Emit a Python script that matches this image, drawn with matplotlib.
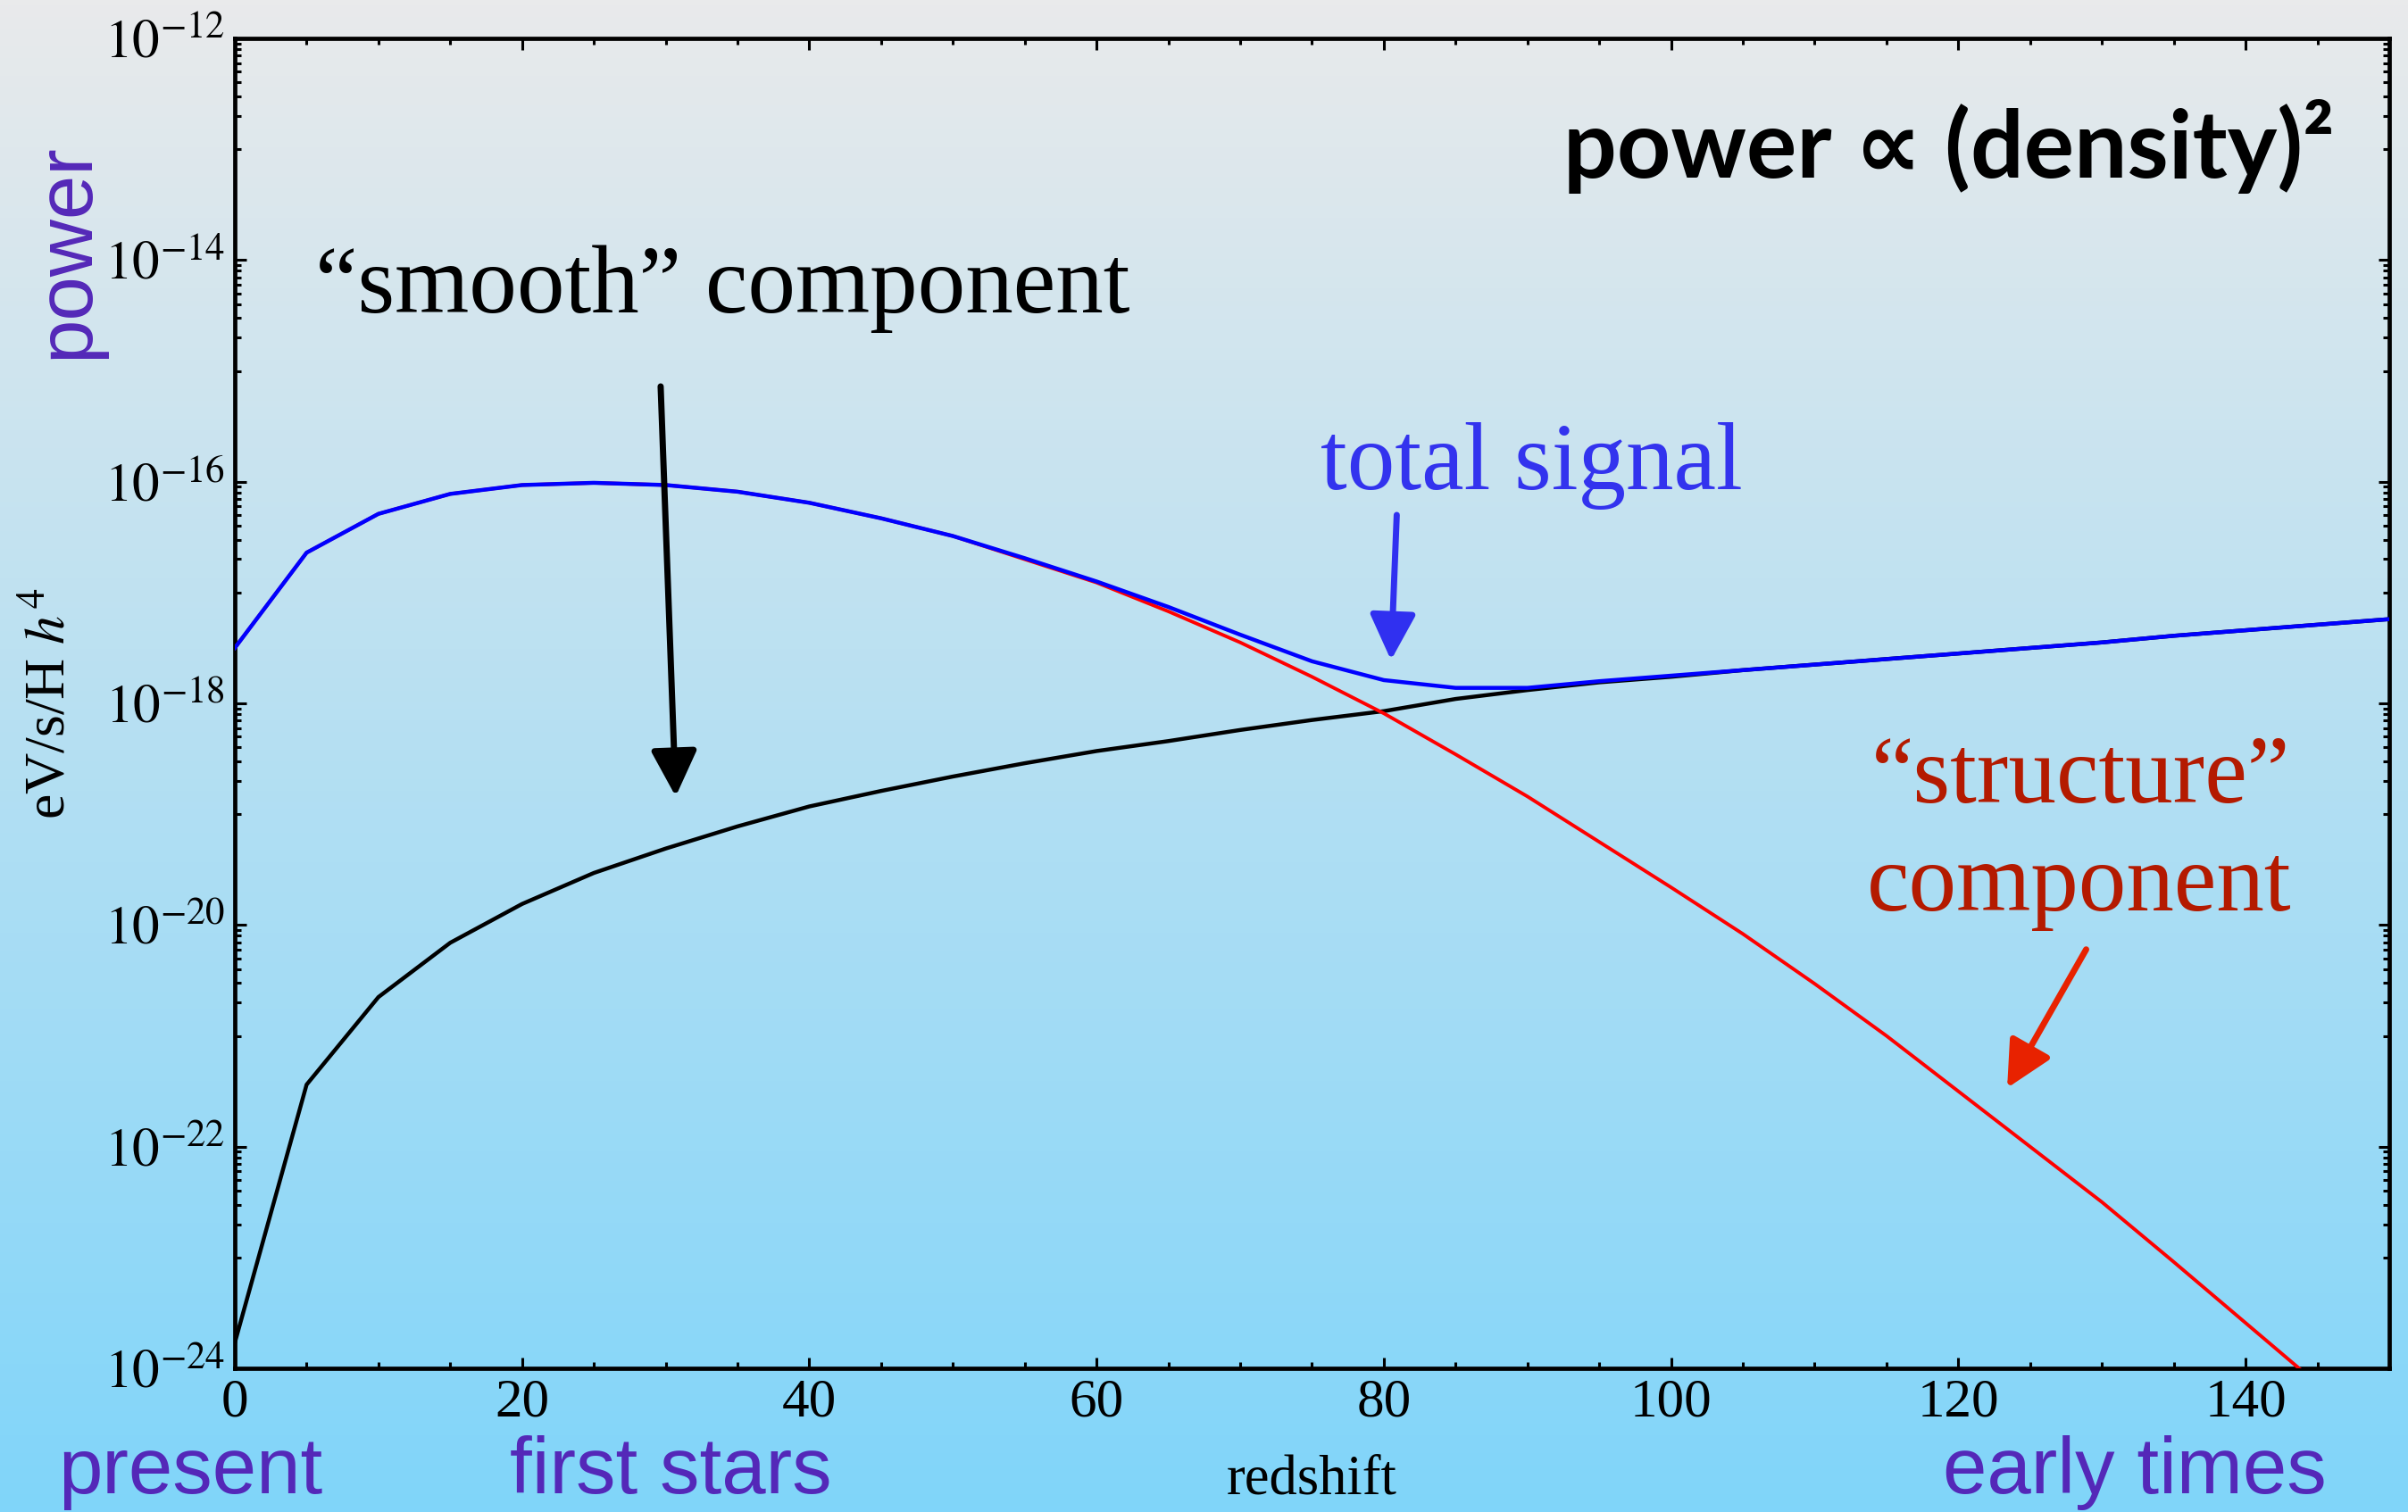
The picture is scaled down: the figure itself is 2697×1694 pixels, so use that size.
import numpy as np
import matplotlib
matplotlib.use("Agg")
import matplotlib.pyplot as plt
from matplotlib.ticker import FixedLocator, FuncFormatter, MultipleLocator
from matplotlib.colors import LinearSegmentedColormap

# redshift grid and log10 of emitted power (eV/s/H h^4)
redshift = [0, 5, 10, 15, 20, 25, 30, 35, 40, 45, 50, 55, 60, 65, 70, 75,
            80, 85, 90, 95, 100, 105, 110, 115, 120, 125, 130, 135, 140, 145, 150]
log_smooth = [-23.77, -21.44, -20.65, -20.16, -19.81, -19.53, -19.31, -19.11,
              -18.93, -18.79, -18.66, -18.54, -18.43, -18.34, -18.24, -18.15,
              -18.07, -17.96, -17.88, -17.81, -17.76, -17.70, -17.65, -17.60,
              -17.55, -17.50, -17.45, -17.39, -17.34, -17.29, -17.24]
log_structure = [-17.50, -16.64, -16.29, -16.11, -16.03, -16.01, -16.03, -16.09,
                 -16.19, -16.33, -16.49, -16.70, -16.91, -17.17, -17.45, -17.76,
                 -18.09, -18.46, -18.84, -19.25, -19.66, -20.08, -20.53, -21.00,
                 -21.50, -22.00, -22.50, -23.04, -23.59, -24.14, -24.70]
log_total = [-17.50, -16.64, -16.29, -16.11, -16.03, -16.01, -16.03, -16.09,
             -16.19, -16.33, -16.49, -16.69, -16.90, -17.13, -17.38, -17.62,
             -17.79, -17.86, -17.86, -17.80, -17.75, -17.70, -17.65, -17.60,
             -17.55, -17.50, -17.45, -17.39, -17.34, -17.29, -17.24]

y_major = [-24, -22, -20, -18, -16, -14, -12]

PURPLE = "#5428b8"
SERIF = "Liberation Serif"
SANS = ["Liberation Sans", "DejaVu Sans"]

plt.rcParams["mathtext.fontset"] = "stix"
plt.rcParams["font.family"] = SERIF

fig = plt.figure(figsize=(26.97, 16.94), dpi=100)

# vertical gradient behind everything
bg = fig.add_axes([0, 0, 1, 1], zorder=0)
cmap = LinearSegmentedColormap.from_list("sky", ["#80d5fa", "#e9eaeb"])
bg.imshow(np.linspace(0, 1, 256).reshape(-1, 1), cmap=cmap, aspect="auto",
          origin="lower", extent=[0, 1, 0, 1])
bg.axis("off")

ax = fig.add_axes([0.0975, 0.0950, 0.8947, 0.8796], zorder=1)
ax.set_facecolor("none")

z = np.array(redshift)
ax.plot(z, 10.0 ** np.array(log_smooth), color="black", lw=3.2, zorder=3)
ax.plot(z, 10.0 ** np.array(log_structure), color="#ff0000", lw=2.8, zorder=4)
ax.plot(z, 10.0 ** np.array(log_total), color="#0000ff", lw=3.2, zorder=5)

ax.set_yscale("log")
ax.set_xlim(0, 150)
ax.set_ylim(1e-24, 1e-12)

# majors every two decades, minors k*10^(m-1) just under each major
ax.yaxis.set_major_locator(FixedLocator([10.0 ** m for m in y_major]))
minors = [k * 10.0 ** (m - 1) for m in y_major[1:] for k in range(1, 10)]
ax.yaxis.set_minor_locator(FixedLocator(minors))
ax.yaxis.set_major_formatter(FuncFormatter(lambda v, p: r"$10^{%d}$" % round(np.log10(v))))
ax.yaxis.set_minor_formatter(FuncFormatter(lambda v, p: ""))
ax.xaxis.set_major_locator(MultipleLocator(20))
ax.xaxis.set_minor_locator(MultipleLocator(5))

ax.tick_params(which="both", direction="in", top=True, right=True, width=2.2)
ax.tick_params(which="major", length=9, labelsize=44, pad=8)
ax.tick_params(which="minor", length=5)
for s in ax.spines.values():
    s.set_linewidth(3.4)

ax.set_xlabel("redshift", fontsize=45)
ax.xaxis.set_label_coords(0.5, -0.065)
ax.set_ylabel(r"eV/s/H $h^4$", fontsize=46)
ax.yaxis.set_label_coords(-0.073, 0.5)


def arrow(tip, start, color):
    ax.annotate("", xy=tip, xytext=start,
                arrowprops=dict(arrowstyle="-|>,head_length=0.9,head_width=0.45",
                                lw=5, color=color, mutation_scale=35,
                                shrinkA=0, shrinkB=0), zorder=6)


arrow((30.7, 10 ** -18.84), (29.65, 10 ** -15.14), "black")
arrow((80.5, 10 ** -17.61), (80.9, 10 ** -16.30), "#3030f0")
arrow((123.4, 10 ** -21.47), (128.9, 10 ** -20.22), "#e82200")

ax.text(5.6, 10 ** -14.47, "\u201csmooth\u201d component", fontsize=77,
        ha="left", va="baseline", color="black")
ax.text(75.6, 10 ** -16.07, "total signal", fontsize=77,
        ha="left", va="baseline", color="#3333ee")
ax.text(128.5, 10 ** -18.89, "\u201cstructure\u201d", fontsize=77,
        ha="center", va="baseline", color="#b41a00")
ax.text(128.4, 10 ** -19.87, "component", fontsize=77,
        ha="center", va="baseline", color="#b41a00")
ax.text(146.2, 10 ** -13.26, "power \u221d (density)\u00b2", fontsize=76,
        fontweight="bold", family=["Lato", "DejaVu Sans"],
        ha="right", va="baseline", color="black")

# era labels along the redshift axis
era = dict(fontsize=64, color=PURPLE, family=SANS, va="baseline")
fig.text(0.0241, 0.0125, "present", ha="left", **era)
fig.text(0.2117, 0.0125, "first stars", ha="left", **era)
fig.text(0.9663, 0.0125, "early times", ha="right", **era)
fig.text(0.0278, 0.834, "power", rotation=90, fontsize=64, color=PURPLE,
         family=SANS, ha="center", va="center")

fig.savefig("out.png", dpi=100)
